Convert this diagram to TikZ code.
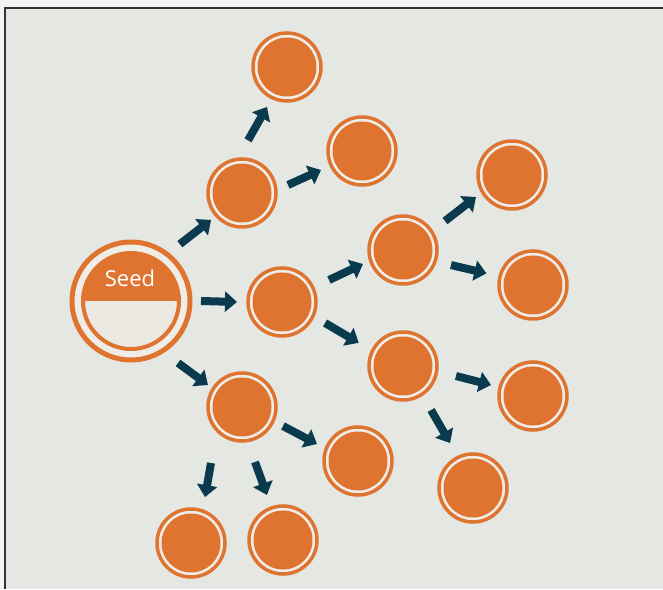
\documentclass[tikz,border=0pt]{standalone}
\usepackage{fontspec}
\setmainfont{Open Sans}
\usetikzlibrary{arrows.meta}
\definecolor{ora}{HTML}{DE7430}
\definecolor{arrc}{HTML}{0A3A4E}
\definecolor{bgc}{HTML}{E5E7E2}
\definecolor{outc}{HTML}{F3F3F3}
\definecolor{gapc}{HTML}{F0EDE8}
\definecolor{seedlt}{HTML}{ECE9E3}
\definecolor{framec}{HTML}{333333}
\begin{document}
\begin{tikzpicture}[x=1pt,y=1pt,
  bub/.style={circle, draw=ora, line width=3.5pt, fill=gapc, minimum size=68pt, inner sep=0pt,
    path picture={\fill[ora] (path picture bounding box.center) circle (29.5pt);}},
  seedring/.style={circle, draw=ora, line width=5pt, fill=gapc, minimum size=118pt, inner sep=0pt},
  arr/.style={arrc, line width=8pt, -{Triangle[length=12pt,width=20pt]}}]
\useasboundingbox (0,0) rectangle (663,589);
\fill[outc] (0,0) rectangle (663,589);
\fill[bgc] (5,0) rectangle (663,581);
\draw[framec, line width=2.5pt] (5,0) -- (5,581) -- (663,581);

% seed
\node[seedring] (s) at (131,288) {};
\begin{scope}
  \clip (s.center) circle (48);
  \fill[ora] ([shift={(-50,0)}]s.center) rectangle ([shift={(50,50)}]s.center);
  \fill[seedlt] ([shift={(-50,-50)}]s.center) rectangle ([shift={(50,0)}]s.center);
\end{scope}
\draw[ora, line width=4pt] (s.center) circle (48);
\node[text=white, font=\fontsize{22}{25}\selectfont, inner sep=0pt] (seedtxt) at (130,311) {Seed};

% bubbles
\node[bub] (n1) at (287,522) {};
\node[bub] (n2) at (362,438) {};
\node[bub] (n3) at (242,396) {};
\node[bub] (n4) at (282,287) {};
\node[bub] (n5) at (403,339) {};
\node[bub] (n6) at (512,414) {};
\node[bub] (n7) at (533,304) {};
\node[bub] (n8) at (403,223) {};
\node[bub] (n9) at (533,193) {};
\node[bub] (n10) at (242,182) {};
\node[bub] (n11) at (358,128) {};
\node[bub] (n12) at (473,101) {};
\node[bub] (n13) at (191,46) {};
\node[bub] (n14) at (283,49) {};

% arrows
\draw[arr] ([shift={(49.3:75)}]s.center) -- ([shift={(221:41)}]n3.center);
\draw[arr] ([shift={(83.5:53)}]n3.center) -- ([shift={(243.4:44.7)}]n1.center);
\draw[arr] ([shift={(9.9:46.7)}]n3.center) -- ([shift={(204.9:45.2)}]n2.center);
\draw[arr] ([shift={(0:70)}]s.center) -- ([shift={(180:45)}]n4.center);
\draw[arr] ([shift={(25.1:51.9)}]n4.center) -- ([shift={(199.3:42.4)}]n5.center);
\draw[arr] ([shift={(34.6:51)}]n5.center) -- ([shift={(211.4:42.2)}]n6.center);
\draw[arr] ([shift={(-17.4:50.3)}]n5.center) -- ([shift={(166:48)}]n7.center);
\draw[arr] ([shift={(-26:47.9)}]n4.center) -- ([shift={(152.4:50)}]n8.center);
\draw[arr] ([shift={(-10.7:53.9)}]n8.center) -- ([shift={(165.3:43.4)}]n9.center);
\draw[arr] ([shift={(-57.5:52.2)}]n8.center) -- ([shift={(117:50.5)}]n12.center);
\draw[arr] ([shift={(-52.8:77.8)}]s.center) -- ([shift={(147.1:40.5)}]n10.center);
\draw[arr] ([shift={(-24.9:45.2)}]n10.center) -- ([shift={(157.5:44.4)}]n11.center);
\draw[arr] ([shift={(241:64)}]n10.center) -- ([shift={(73:48)}]n13.center);
\draw[arr] ([shift={(-76.7:56.5)}]n10.center) -- ([shift={(109.6:47.8)}]n14.center);
\end{tikzpicture}
\end{document}
